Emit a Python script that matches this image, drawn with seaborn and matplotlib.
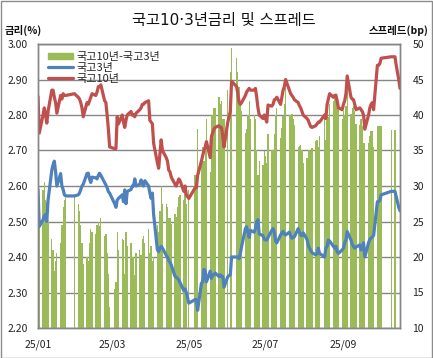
import numpy as np
import pandas as pd
import matplotlib
matplotlib.use("Agg")
import matplotlib.pyplot as plt
import seaborn as sns
from matplotlib.patches import Rectangle

sns.set_theme(style="white")
plt.rcParams["font.family"] = ["Noto Sans CJK KR", "DejaVu Sans"]

# ---- data -------------------------------------------------------------
kr_holidays = ["2025-01-27", "2025-01-28", "2025-01-29", "2025-01-30",
               "2025-03-03", "2025-05-01", "2025-05-05", "2025-05-06",
               "2025-06-03", "2025-06-06", "2025-08-15", "2025-10-03",
               "2025-10-06", "2025-10-07", "2025-10-08", "2025-10-09"]
dates = pd.bdate_range("2025-01-02", "2025-10-17", freq="C", holidays=kr_holidays)

# 국고10년 (%)
y10 = [
    # Jan
    2.852, 2.749, 2.80, 2.82, 2.80, 2.777, 2.81, 2.87, 2.87, 2.85, 2.835, 2.805,
    2.855, 2.845, 2.86, 2.855, 2.855, 2.86,
    # Feb
    2.85, 2.845, 2.835, 2.82, 2.795, 2.835, 2.83, 2.84, 2.85, 2.86, 2.855, 2.865,
    2.88, 2.88, 2.885, 2.84, 2.835, 2.80, 2.76, 2.71,
    # Mar
    2.705, 2.705, 2.795, 2.775, 2.80, 2.78, 2.765, 2.785, 2.80, 2.81, 2.80, 2.80,
    2.795, 2.805, 2.815, 2.82, 2.83, 2.83, 2.835, 2.84,
    # Apr
    2.785, 2.78, 2.775, 2.72, 2.665, 2.65, 2.69, 2.73, 2.70, 2.68, 2.67, 2.645,
    2.64, 2.625, 2.605, 2.60, 2.61, 2.62, 2.615, 2.585, 2.60, 2.575,
    # May
    2.565, 2.595, 2.595, 2.63, 2.67, 2.685, 2.70, 2.71, 2.725, 2.68, 2.74, 2.75,
    2.76, 2.765, 2.77, 2.765, 2.765, 2.74, 2.71,
    # Jun
    2.78, 2.81, 2.895, 2.88, 2.86, 2.835, 2.83, 2.835, 2.855, 2.865, 2.87, 2.875,
    2.87, 2.87, 2.875, 2.85, 2.82, 2.80, 2.79,
    # Jul
    2.80, 2.79, 2.78, 2.828, 2.825, 2.83, 2.843, 2.845, 2.85, 2.83, 2.85, 2.87,
    2.88, 2.90, 2.87, 2.86, 2.855, 2.85, 2.843, 2.835, 2.826, 2.82, 2.81,
    # Aug
    2.80, 2.79, 2.785, 2.775, 2.767, 2.765, 2.77, 2.775, 2.78, 2.78, 2.80, 2.79,
    2.83, 2.845, 2.86, 2.85, 2.855, 2.856, 2.84, 2.82,
    # Sep
    2.815, 2.83, 2.84, 2.86, 2.91, 2.85, 2.845, 2.843, 2.83, 2.815, 2.82, 2.815,
    2.81, 2.80, 2.76, 2.80, 2.82, 2.83, 2.835, 2.815, 2.94, 2.94,
    # Oct
    2.945, 2.96, 2.964, 2.964, 2.94, 2.92, 2.90, 2.875,
]

# 국고3년 (%)
y3 = [
    # Jan
    2.59, 2.486, 2.505, 2.515, 2.52, 2.50, 2.56, 2.645, 2.66, 2.67, 2.64, 2.60,
    2.635, 2.60, 2.59, 2.575, 2.572, 2.572,
    # Feb
    2.575, 2.58, 2.59, 2.60, 2.605, 2.635, 2.636, 2.62, 2.61, 2.625, 2.623, 2.62,
    2.63, 2.636, 2.63, 2.61, 2.603, 2.595, 2.584, 2.58,
    # Mar
    2.55, 2.54, 2.56, 2.565, 2.575, 2.556, 2.589, 2.55, 2.585, 2.59, 2.60, 2.60,
    2.62, 2.60, 2.605, 2.617, 2.605, 2.60, 2.615, 2.60,
    # Apr
    2.58, 2.565, 2.58, 2.52, 2.42, 2.415, 2.425, 2.43, 2.425, 2.405, 2.40, 2.39,
    2.385, 2.378, 2.345, 2.343, 2.34, 2.335, 2.328, 2.305, 2.31, 2.30,
    # May
    2.27, 2.28, 2.28, 2.25, 2.326, 2.33, 2.365, 2.36, 2.33, 2.36, 2.34, 2.35,
    2.35, 2.355, 2.345, 2.35, 2.345, 2.345, 2.315,
    # Jun
    2.345, 2.35, 2.40, 2.40, 2.40, 2.395, 2.41, 2.43, 2.48, 2.485, 2.47, 2.455,
    2.475, 2.47, 2.48, 2.50, 2.505, 2.465, 2.46,
    # Jul
    2.45, 2.448, 2.448, 2.455, 2.475, 2.48, 2.47, 2.445, 2.44, 2.462, 2.468, 2.472,
    2.465, 2.462, 2.47, 2.46, 2.453, 2.455, 2.457, 2.48, 2.47, 2.462, 2.46,
    # Aug
    2.468, 2.45, 2.434, 2.425, 2.418, 2.412, 2.406, 2.41, 2.425, 2.41, 2.40, 2.425,
    2.43, 2.448, 2.445, 2.43, 2.425, 2.43, 2.415, 2.41,
    # Sep
    2.42, 2.425, 2.44, 2.448, 2.472, 2.448, 2.435, 2.43, 2.425, 2.428, 2.434, 2.42,
    2.425, 2.44, 2.40, 2.44, 2.45, 2.453, 2.457, 2.46, 2.556, 2.556,
    # Oct
    2.56, 2.575, 2.585, 2.585, 2.57, 2.555, 2.54, 2.53,
]
assert len(y10) == len(dates) == len(y3)

last_bar_date = "2025-10-13"          # spread bars are published through this day
left_ticks = [2.20, 2.30, 2.40, 2.50, 2.60, 2.70, 2.80, 2.90, 3.00]
right_ticks = [10, 15, 20, 25, 30, 35, 40, 45, 50]
x_tick_dates = ["2025-01-02", "2025-03-02", "2025-05-02", "2025-07-02", "2025-09-02"]
x_tick_labels = ["25/01", "25/03", "25/05", "25/07", "25/09"]

df = pd.DataFrame({"date": dates, "y10": y10, "y3": y3})
df["spread"] = (df["y10"] - df["y3"]) * 100
df.loc[df["date"] > pd.Timestamp(last_bar_date), "spread"] = np.nan

# ---- figure -----------------------------------------------------------
W, H = 433, 358
fig = plt.figure(figsize=(W / 100, H / 100), dpi=100)
fig.patch.set_facecolor("white")
ax = fig.add_axes([38 / W, 1 - 328 / H, 362 / W, 284 / H])
ax2 = ax.twinx()

green, blue, red = "#9BBB59", "#4F81BD", "#C0504D"
grid_c = "#868686"

# bars (right axis)
ax2.bar(df["date"], df["spread"], width=1.0, color=green, linewidth=0, zorder=2)
ax2.set_ylim(10, 50)
ax2.set_yticks(right_ticks)
ax2.grid(axis="y", color=grid_c, linewidth=1.0, zorder=0)
ax2.set_axisbelow(True)

# lines (left axis, drawn above bars)
ax.set_zorder(ax2.get_zorder() + 1)
ax.patch.set_visible(False)
sns.lineplot(data=df, x="date", y="y3", ax=ax, color=blue, linewidth=2.3,
             solid_joinstyle="round", solid_capstyle="round", legend=False)
sns.lineplot(data=df, x="date", y="y10", ax=ax, color=red, linewidth=2.3,
             solid_joinstyle="round", solid_capstyle="round", legend=False)
ax.set_ylim(2.20, 3.00)
ax.set_yticks(left_ticks)
ax.set_yticklabels([f"{v:.2f}" for v in left_ticks])
ax.set_xlim(dates[0], dates[-1])
ax.set_xticks(pd.to_datetime(x_tick_dates))
ax.set_xticklabels(x_tick_labels)
ax.set_xlabel("")
ax.set_ylabel("")
ax.grid(False)

for a in (ax, ax2):
    for s in a.spines.values():
        s.set_color(grid_c)
        s.set_linewidth(1.0)
    a.tick_params(length=0, labelsize=7.5, colors="#222222")
ax.tick_params(axis="y", pad=7)
ax.tick_params(axis="x", pad=8)
ax2.tick_params(axis="y", pad=9)

# legend
handles = [Rectangle((0, 0), 1, 1, color=green),
           plt.Line2D([], [], color=blue, linewidth=2.3),
           plt.Line2D([], [], color=red, linewidth=2.3)]
labels = ["국고10년-국고3년", "국고3년", "국고10년"]
ax.legend(handles, labels, loc="upper left", bbox_to_anchor=(0.005, 1.0),
          frameon=False, fontsize=8, handlelength=2.3, handleheight=0.5,
          handletextpad=0.3, labelspacing=0.1, borderaxespad=0.3)

# texts
fig.text(223.5 / W, 1 - 20 / H, "국고10·3년금리 및 스프레드", ha="center", va="center",
         fontsize=11, color="#111111", family=["DejaVu Sans", "Noto Sans CJK KR"])
fig.text(5 / W, 1 - 30 / H, "금리(%)", ha="left", va="center", fontsize=7.5,
         fontweight="bold", color="#111111")
fig.text(428 / W, 1 - 30 / H, "스프레드(bp)", ha="right", va="center", fontsize=7.5,
         fontweight="bold", color="#111111")

# outer chart border
fig.patches.append(Rectangle((0.5 / W, 0.5 / H), 1 - 1.5 / W, 1 - 1.5 / H,
                             transform=fig.transFigure, fill=False,
                             edgecolor="#8C8C8C", linewidth=1.0))

fig.savefig("out.png", dpi=100)
